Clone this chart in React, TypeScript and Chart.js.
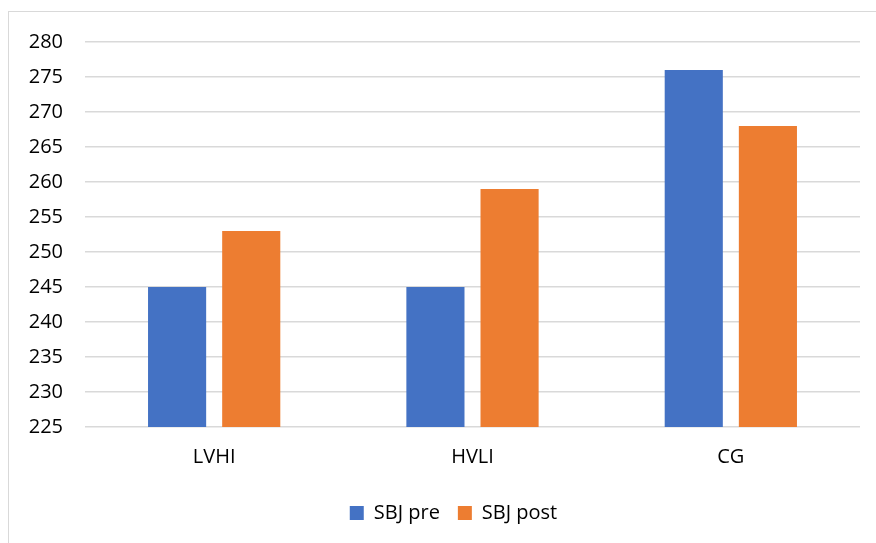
import React, { useEffect, useRef } from "react";
import { Chart, registerables } from "chart.js";

Chart.register(...registerables);

const categories = ["LVHI", "HVLI", "CG"];
const sbjPre = [245, 245, 276];
const sbjPost = [253, 259, 268];
const seriesLabels = ["SBJ pre", "SBJ post"];
const yMin = 225;
const yMax = 280;
const yStep = 5;

const FONT = "'Open Sans', 'Liberation Sans', sans-serif";
const FONT_SIZE = 20;
const LEGEND_SHIFT_X = 19;

// Nudges the legend box sideways after the layout pass.
const legendNudge = {
  id: "legendNudge",
  afterLayout(chart: any) {
    const lg = chart.legend;
    if (!lg) return;
    lg.left += LEGEND_SHIFT_X;
    lg.right += LEGEND_SHIFT_X;
  },
};

export default function App() {
  const ref = useRef<HTMLCanvasElement | null>(null);

  useEffect(() => {
    if (!ref.current) return;
    const chart = new Chart(ref.current, {
      type: "bar",
      data: {
        labels: categories,
        datasets: [
          { label: seriesLabels[0], data: sbjPre, backgroundColor: "#4472C4" },
          { label: seriesLabels[1], data: sbjPost, backgroundColor: "#ED7D31" },
        ],
      },
      options: {
        animation: false,
        responsive: false,
        maintainAspectRatio: false,
        layout: { padding: { top: 8, right: 16, left: 0, bottom: 10 } },
        datasets: {
          bar: { categoryPercentage: 0.574, barPercentage: 0.784 },
        },
        plugins: {
          tooltip: { enabled: false },
          legend: {
            position: "bottom",
            labels: {
              color: "#000",
              font: { family: FONT, size: FONT_SIZE },
              boxWidth: 14,
              boxHeight: 14,
              padding: 18,
            },
          },
        },
        scales: {
          x: {
            grid: { display: false },
            border: { display: false },
            ticks: { color: "#000", font: { family: FONT, size: FONT_SIZE }, padding: 10 },
            afterFit: (s: any) => {
              s.height = 58;
            },
          },
          y: {
            min: yMin,
            max: yMax,
            grid: { color: "#d9d9d9", lineWidth: 1.5, drawTicks: false },
            border: { display: false },
            ticks: {
              stepSize: yStep,
              color: "#000",
              font: { family: FONT, size: FONT_SIZE },
              padding: 22,
            },
            afterFit: (s: any) => {
              s.width = 76;
            },
          },
        },
      },
      plugins: [legendNudge],
    });
    return () => chart.destroy();
  }, []);

  return (
    <div
      style={{
        position: "absolute",
        left: 8,
        top: 11,
        width: 880,
        height: 545,
        border: "1px solid #d9d9d9",
        background: "#fff",
      }}
    >
      <canvas
        ref={ref}
        width={867}
        height={535}
        style={{ display: "block", marginTop: -4 }}
      />
    </div>
  );
}
